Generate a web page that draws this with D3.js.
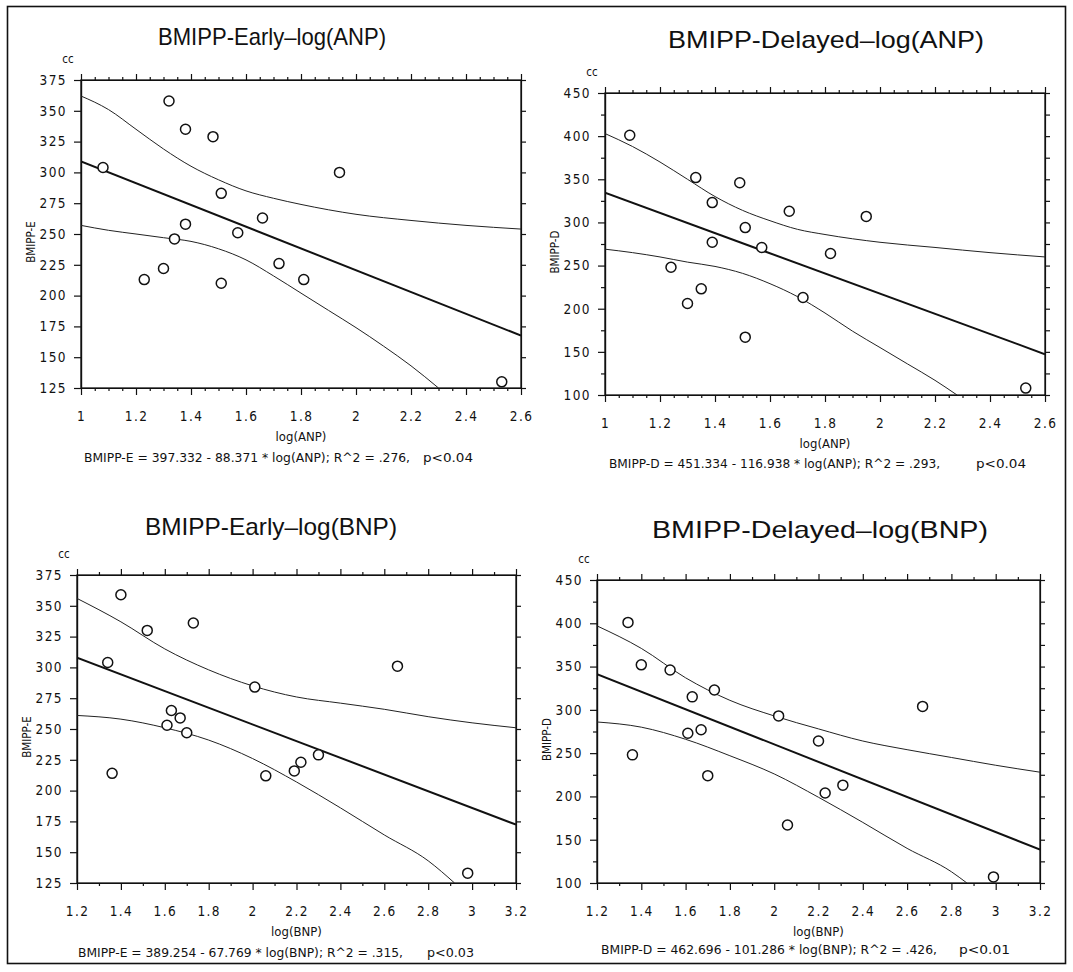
<!DOCTYPE html>
<html>
<head>
<meta charset="utf-8">
<title>BMIPP vs log(ANP) / log(BNP)</title>
<style>
  body { margin: 0; background: #fff; }
  svg { display: block; }
  .title { font-family: "Liberation Sans", Arial, sans-serif; font-size: 24px; fill: #111; }
  .axis text { font-family: "DejaVu Sans Condensed", "DejaVu Sans", sans-serif; font-size: 13.5px; fill: #111; letter-spacing: 1.4px; }
  .axis path, .axis line { stroke: #111; stroke-width: 1.2; }
  .lab { font-family: "DejaVu Sans Condensed", "DejaVu Sans", sans-serif; font-size: 13px; fill: #111; }
  .ylab { font-family: "DejaVu Sans Condensed", "DejaVu Sans", sans-serif; font-size: 11.5px; fill: #111; }
  .eq { font-family: "DejaVu Sans Condensed", "DejaVu Sans", sans-serif; font-size: 13px; fill: #111; }
</style>
<script src="https://cdn.jsdelivr.net/npm/d3@7"></script>
</head>
<body>
<div id="chart"></div>
<script>
  // ---- data ----
  // BMIPP-Early vs log(ANP)
  var anpEarlyX = [1.08, 1.32, 1.38, 1.48, 1.94, 1.51, 1.66, 1.38, 1.57, 1.34, 1.30, 1.23, 1.51, 1.72, 1.81, 2.53];
  var anpEarlyY = [304, 358, 335, 329, 300, 283, 263, 258, 251, 246, 222, 213, 210, 226, 213, 130];
  var anpEarlyUpX = [1.0, 1.1, 1.2, 1.3, 1.4, 1.5, 1.6, 1.7, 1.8, 2.0, 2.2, 2.4, 2.6];
  var anpEarlyUp = [362, 351, 335, 319, 305, 294, 285, 279, 274, 266, 261, 257, 254];
  var anpEarlyLoX = [1.0, 1.1, 1.2, 1.3, 1.4, 1.5, 1.6, 1.7, 1.8, 1.9, 2.0, 2.1, 2.2, 2.3];
  var anpEarlyLo = [257, 253, 250, 247, 244, 238, 229, 216, 202, 188, 174, 159, 143, 125];

  // BMIPP-Delayed vs log(ANP)
  var anpDelX = [1.09, 1.33, 1.49, 1.39, 1.67, 1.95, 1.51, 1.39, 1.57, 1.82, 1.24, 1.35, 1.30, 1.72, 1.51, 2.53];
  var anpDelY = [401, 352, 346, 323, 313, 307, 294, 277, 271, 264, 248, 223, 206, 213, 167, 108];
  var anpDelUpX = [1.0, 1.1, 1.2, 1.3, 1.4, 1.5, 1.6, 1.7, 1.8, 2.0, 2.2, 2.4, 2.6];
  var anpDelUp = [403, 388, 370, 350, 330, 314, 302, 292, 286, 277, 271, 265, 260];
  var anpDelLoX = [1.0, 1.1, 1.2, 1.3, 1.4, 1.5, 1.6, 1.7, 1.8, 1.9, 2.0, 2.1, 2.2, 2.28];
  var anpDelLo = [269, 265, 260, 254, 249, 241, 229, 214, 195, 174, 155, 136, 117, 100];

  // BMIPP-Early vs log(BNP)
  var bnpEarlyX = [1.40, 1.73, 1.52, 1.34, 2.66, 2.01, 1.63, 1.67, 1.61, 1.70, 2.30, 2.22, 2.19, 2.06, 1.36, 2.98];
  var bnpEarlyY = [359, 336, 330, 304, 301, 284, 265, 259, 253, 247, 229, 223, 216, 212, 214, 133];
  var bnpEarlyUpX = [1.2, 1.4, 1.6, 1.8, 2.0, 2.2, 2.4, 2.6, 2.8, 3.0, 3.2];
  var bnpEarlyUp = [356, 337, 315, 298, 285, 276, 271, 266, 260, 255, 251];
  var bnpEarlyLoX = [1.2, 1.4, 1.6, 1.8, 2.0, 2.2, 2.4, 2.6, 2.8, 2.92];
  var bnpEarlyLo = [261, 258, 251, 241, 226, 207, 186, 164, 143, 125];

  // BMIPP-Delayed vs log(BNP)
  var bnpDelX = [1.34, 1.40, 1.53, 1.73, 1.63, 2.67, 2.02, 1.67, 1.61, 2.20, 1.36, 1.70, 2.31, 2.23, 2.06, 2.99];
  var bnpDelY = [401, 352, 346, 323, 315, 304, 293, 277, 273, 264, 248, 224, 213, 204, 167, 107];
  var bnpDelUpX = [1.2, 1.4, 1.6, 1.8, 2.0, 2.2, 2.4, 2.6, 2.8, 3.0, 3.2];
  var bnpDelUp = [397, 371, 337, 311, 293, 278, 264, 254, 245, 236, 228];
  var bnpDelLoX = [1.2, 1.4, 1.6, 1.8, 2.0, 2.2, 2.4, 2.6, 2.8, 2.87];
  var bnpDelLo = [286, 280, 266, 247, 226, 199, 170, 140, 113, 100];

  // printed regression coefficients (intercept, slope)
  var coefs = [[397.332, -88.371], [451.334, -116.938], [389.254, -67.769], [462.696, -101.286]];

  // tick labels
  var anpTicks = [1, 1.2, 1.4, 1.6, 1.8, 2, 2.2, 2.4, 2.6];
  var bnpTicks = [1.2, 1.4, 1.6, 1.8, 2, 2.2, 2.4, 2.6, 2.8, 3, 3.2];
  var earlyTicks = [125, 150, 175, 200, 225, 250, 275, 300, 325, 350, 375];
  var delayedTicks = [100, 150, 200, 250, 300, 350, 400, 450];

  var titles = ["BMIPP-Early\u2013log(ANP)", "BMIPP-Delayed\u2013log(ANP)", "BMIPP-Early\u2013log(BNP)", "BMIPP-Delayed\u2013log(BNP)"];
  var equations = [
    ["BMIPP-E = 397.332 - 88.371 * log(ANP); R^2 = .276,", "p<0.04"],
    ["BMIPP-D = 451.334 - 116.938 * log(ANP); R^2 = .293,", "p<0.04"],
    ["BMIPP-E = 389.254 - 67.769 * log(BNP); R^2 = .315,", "p<0.03"],
    ["BMIPP-D = 462.696 - 101.286 * log(BNP); R^2 = .426,", "p<0.01"]
  ];

  // panel layout
  var panels = [
    { left: 81, right: 521, top: 80, bottom: 388, xTicks: anpTicks, minorStep: 0.05, yTicks: earlyTicks, yMinor: false,
      xs: anpEarlyX, ys: anpEarlyY, upX: anpEarlyUpX, up: anpEarlyUp, loX: anpEarlyLoX, lo: anpEarlyLo,
      xLabel: "log(ANP)", yLabel: "BMIPP-E", titleX: 158, titleW: 228, titleY: 45,
      eqX: 84, eqW: 326, pX: 423, pW: 50, eqY: 462 },
    { left: 605, right: 1045, top: 93, bottom: 395, xTicks: anpTicks, minorStep: 0.05, yTicks: delayedTicks, yMinor: true,
      xs: anpDelX, ys: anpDelY, upX: anpDelUpX, up: anpDelUp, loX: anpDelLoX, lo: anpDelLo,
      xLabel: "log(ANP)", yLabel: "BMIPP-D", titleX: 668, titleW: 316, titleY: 48,
      eqX: 609, eqW: 331, pX: 976, pW: 50, eqY: 468 },
    { left: 77, right: 516, top: 575, bottom: 883, xTicks: bnpTicks, minorStep: 0.1, yTicks: earlyTicks, yMinor: false,
      xs: bnpEarlyX, ys: bnpEarlyY, upX: bnpEarlyUpX, up: bnpEarlyUp, loX: bnpEarlyLoX, lo: bnpEarlyLo,
      xLabel: "log(BNP)", yLabel: "BMIPP-E", titleX: 145, titleW: 252, titleY: 535,
      eqX: 78, eqW: 325, pX: 427, pW: 47, eqY: 957 },
    { left: 597, right: 1040, top: 580, bottom: 883, xTicks: bnpTicks, minorStep: 0.1, yTicks: delayedTicks, yMinor: true,
      xs: bnpDelX, ys: bnpDelY, upX: bnpDelUpX, up: bnpDelUp, loX: bnpDelLoX, lo: bnpDelLo,
      xLabel: "log(BNP)", yLabel: "BMIPP-D", titleX: 652, titleW: 336, titleY: 538,
      eqX: 601, eqW: 336, pX: 959, pW: 51, eqY: 954 }
  ];

  var width = 1073, height = 972;

  var svg = d3.select("#chart").append("svg")
    .attr("width", width)
    .attr("height", height);

  // outer frame of the figure
  svg.append("rect")
    .attr("x", 7.5).attr("y", 6.5)
    .attr("width", 1058).attr("height", 957)
    .attr("fill", "none")
    .attr("stroke", "#111")
    .attr("stroke-width", 1.6);

  var fmt = function (d) { return String(+d.toFixed(1)); };

  panels.forEach(function (p, i) {
    var xd = [p.xTicks[0], p.xTicks[p.xTicks.length - 1]];
    var yd = [p.yTicks[0], p.yTicks[p.yTicks.length - 1]];
    var x = d3.scaleLinear().domain(xd).range([p.left, p.right]);
    var y = d3.scaleLinear().domain(yd).range([p.bottom, p.top]);

    var g = svg.append("g");

    // minor tick positions
    var xMinor = d3.range(xd[0], xd[1] + 1e-9, p.minorStep)
      .filter(function (v) { return p.xTicks.every(function (t) { return Math.abs(t - v) > 1e-6; }); });
    var yMinor = [];
    if (p.yMinor) {
      yMinor = d3.range(yd[0] + 25, yd[1], 50);
    }

    // bottom axis
    g.append("g").attr("class", "axis")
      .attr("transform", "translate(0," + p.bottom + ")")
      .call(d3.axisBottom(x).tickValues(p.xTicks).tickSize(7).tickSizeOuter(0).tickPadding(16).tickFormat(fmt));
    g.append("g").attr("class", "axis")
      .attr("transform", "translate(0," + p.bottom + ")")
      .call(d3.axisBottom(x).tickValues(xMinor).tickSize(3).tickSizeOuter(0).tickFormat(""));
    // top axis
    g.append("g").attr("class", "axis")
      .attr("transform", "translate(0," + p.top + ")")
      .call(d3.axisTop(x).tickValues(p.xTicks).tickSize(6).tickSizeOuter(0).tickFormat(""));
    g.append("g").attr("class", "axis")
      .attr("transform", "translate(0," + p.top + ")")
      .call(d3.axisTop(x).tickValues(xMinor).tickSize(3).tickSizeOuter(0).tickFormat(""));
    // left axis
    g.append("g").attr("class", "axis")
      .attr("transform", "translate(" + p.left + ",0)")
      .call(d3.axisLeft(y).tickValues(p.yTicks).tickSize(7).tickSizeOuter(0).tickPadding(7).tickFormat(d3.format("d")));
    g.append("g").attr("class", "axis")
      .attr("transform", "translate(" + p.left + ",0)")
      .call(d3.axisLeft(y).tickValues(yMinor).tickSize(4).tickSizeOuter(0).tickFormat(""));
    // right axis
    g.append("g").attr("class", "axis")
      .attr("transform", "translate(" + p.right + ",0)")
      .call(d3.axisRight(y).tickValues(p.yTicks.concat(yMinor)).tickSize(5).tickSizeOuter(0).tickFormat(""));

    // plot frame
    g.append("rect")
      .attr("x", p.left).attr("y", p.top)
      .attr("width", p.right - p.left).attr("height", p.bottom - p.top)
      .attr("fill", "none").attr("stroke", "#111").attr("stroke-width", 1.3);

    // clip for the lines
    var clipId = "clip" + i;
    svg.append("clipPath").attr("id", clipId)
      .append("rect")
      .attr("x", p.left).attr("y", p.top)
      .attr("width", p.right - p.left).attr("height", p.bottom - p.top);

    var band = d3.line()
      .x(function (d) { return x(d[0]); })
      .y(function (d) { return y(d[1]); })
      .curve(d3.curveMonotoneX);

    var lines = g.append("g").attr("clip-path", "url(#" + clipId + ")");
    lines.append("path")
      .attr("d", band(d3.zip(p.upX, p.up)))
      .attr("fill", "none").attr("stroke", "#222").attr("stroke-width", 1);
    lines.append("path")
      .attr("d", band(d3.zip(p.loX, p.lo)))
      .attr("fill", "none").attr("stroke", "#222").attr("stroke-width", 1);

    // regression line from the printed coefficients
    var c = coefs[i];
    lines.append("path")
      .attr("d", band(xd.map(function (v) { return [v, c[0] + c[1] * v]; })))
      .attr("fill", "none").attr("stroke", "#111").attr("stroke-width", 2);

    // data points
    g.append("g").selectAll("circle")
      .data(d3.zip(p.xs, p.ys))
      .enter().append("circle")
      .attr("cx", function (d) { return x(d[0]); })
      .attr("cy", function (d) { return y(d[1]); })
      .attr("r", 5)
      .attr("fill", "#fff")
      .attr("stroke", "#111")
      .attr("stroke-width", 1.5);

    // titles and labels
    g.append("text").attr("class", "title")
      .attr("x", p.titleX).attr("y", p.titleY)
      .attr("textLength", p.titleW).attr("lengthAdjust", "spacingAndGlyphs")
      .text(titles[i]);

    g.append("text").attr("class", "ylab")
      .attr("x", p.left - 13).attr("y", p.top - 17)
      .attr("text-anchor", "middle")
      .text("cc");

    g.append("text").attr("class", "ylab")
      .attr("transform", "translate(" + (p.left - 46) + "," + ((p.top + p.bottom) / 2 + 8) + ") rotate(-90)")
      .attr("text-anchor", "middle")
      .text(p.yLabel);

    g.append("text").attr("class", "lab")
      .attr("x", (p.left + p.right) / 2).attr("y", p.bottom + 53)
      .attr("text-anchor", "middle")
      .text(p.xLabel);

    g.append("text").attr("class", "eq")
      .attr("x", p.eqX).attr("y", p.eqY)
      .attr("textLength", p.eqW).attr("lengthAdjust", "spacingAndGlyphs")
      .text(equations[i][0]);
    g.append("text").attr("class", "eq")
      .attr("x", p.pX).attr("y", p.eqY)
      .attr("textLength", p.pW).attr("lengthAdjust", "spacingAndGlyphs")
      .text(equations[i][1]);
  });
</script>
</body>
</html>
